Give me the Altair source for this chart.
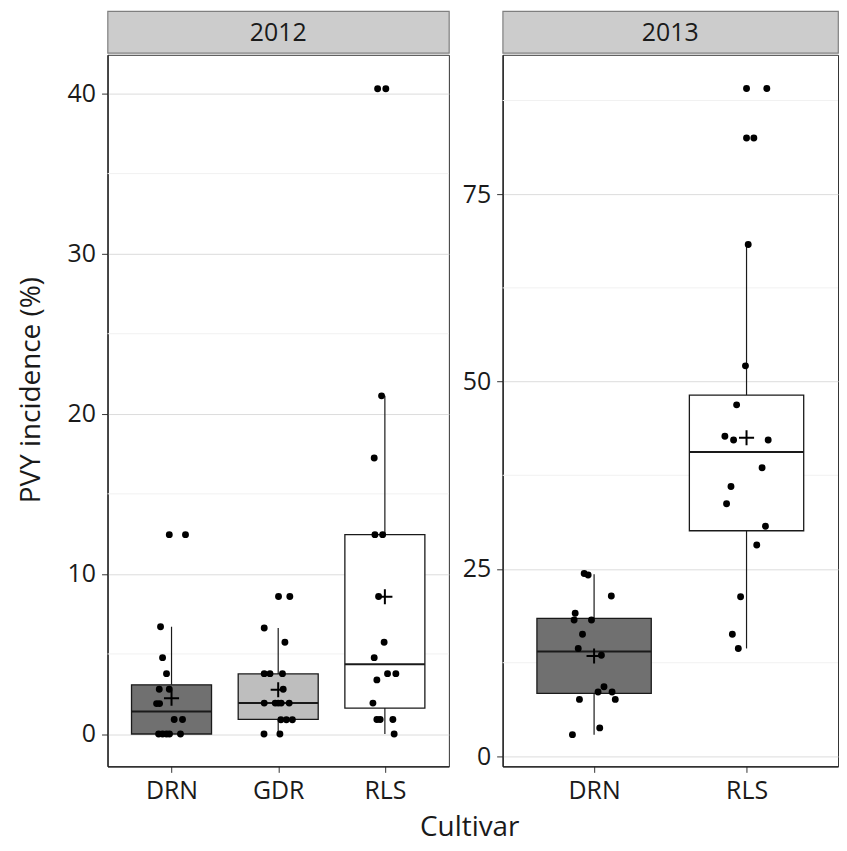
import altair as alt
import pandas as pd

FONT = "Open Sans"

# ---------------- data ----------------
years = ["2012", "2013"]
cats_2012 = ["DRN", "GDR", "RLS"]
cats_2013 = ["DRN", "RLS"]

# 2012 observations (PVY incidence %) and horizontal jitter (category units)
drn_2012 = [12.45, 12.45, 6.70, 4.77, 3.77, 2.80, 2.80, 1.90, 1.90, 0.91, 0.91, 0, 0, 0, 0, 0]
drn_2012_jit = [-0.021, 0.131, -0.103, -0.084, -0.047, -0.115, -0.021, -0.140, -0.112, 0.025, 0.103, -0.121, -0.084, -0.047, -0.019, 0.084]
gdr_2012 = [8.59, 8.59, 6.62, 5.73, 3.77, 3.77, 3.77, 2.80, 1.93, 1.93, 1.93, 1.93, 1.93, 0.89, 0.89, 0.89, 0, 0]
gdr_2012_jit = [0.003, 0.109, -0.131, 0.063, -0.131, -0.077, 0.040, 0.047, -0.131, -0.028, 0.0, 0.028, 0.103, 0.025, 0.077, 0.133, -0.133, 0.016]
rls_2012 = [40.3, 40.3, 21.12, 17.24, 12.45, 12.45, 8.59, 5.73, 4.77, 3.77, 3.77, 3.38, 1.93, 0.91, 0.91, 0.91, 0]
rls_2012_jit = [-0.068, 0.009, -0.031, -0.100, -0.093, -0.021, -0.059, -0.007, -0.100, 0.025, 0.103, -0.075, -0.112, -0.075, -0.044, 0.075, 0.087]

# 2013 observations
drn_2013 = [24.4, 24.2, 21.4, 19.1, 18.2, 18.2, 16.3, 14.4, 13.5, 9.3, 8.6, 8.6, 7.6, 7.6, 3.8, 2.9]
drn_2013_jit = [-0.065, -0.039, 0.113, -0.124, -0.131, -0.017, -0.076, -0.104, 0.048, 0.065, 0.026, 0.118, -0.096, 0.139, 0.037, -0.142]
rls_2013 = [89.1, 89.1, 82.5, 82.5, 68.3, 52.1, 46.9, 42.7, 42.2, 42.2, 38.5, 36.0, 33.7, 30.7, 28.2, 21.3, 16.3, 14.4]
rls_2013_jit = [0.0, 0.133, 0.0, 0.048, 0.011, -0.007, -0.065, -0.142, -0.085, 0.142, 0.102, -0.102, -0.131, 0.124, 0.067, -0.039, -0.093, -0.054]

# box summaries: lower whisker, Q1, median, Q3, upper whisker, mean
box_2012_lo = [0.0, 0.0, 0.0]
box_2012_q1 = [0.0, 0.91, 1.62]
box_2012_med = [1.41, 1.93, 4.36]
box_2012_q3 = [3.07, 3.75, 12.45]
box_2012_hi = [6.70, 6.62, 21.12]
box_2012_mean = [2.24, 2.76, 8.57]

box_2013_lo = [2.9, 14.4]
box_2013_q1 = [8.4, 30.1]
box_2013_med = [14.0, 40.6]
box_2013_q3 = [18.4, 48.2]
box_2013_hi = [24.3, 68.3]
box_2013_mean = [13.4, 42.5]

# axis ticks
ticks_2012 = [0, 10, 20, 30, 40]
minor_2012 = [5, 15, 25, 35]
ticks_2013 = [0, 25, 50, 75]
minor_2013 = [12.5, 37.5, 62.5, 87.5]

fill_cats = ["DRN", "GDR", "RLS"]
fill_cols = ["#707070", "#BEBEBE", "#FFFFFF"]

BOX_W = 0.75
PLUS = "M -1 0 L 1 0 M 0 -1 L 0 1"
STRIP_H = 42
W1, W2, H = 343, 337, 715


def points_frame(cats, values, jits):
    rows = []
    for i, c in enumerate(cats):
        for v, j in zip(values[i], jits[i]):
            rows.append({"cultivar": c, "pos": i + 1, "value": v, "jit": j})
    return pd.DataFrame(rows)


def box_frame(cats, lo, q1, med, q3, hi, mean):
    return pd.DataFrame({
        "cultivar": cats, "pos": list(range(1, len(cats) + 1)),
        "lo": lo, "q1": q1, "med": med, "q3": q3, "hi": hi, "mean": mean,
    })


def panel(cats, pts, box, ydom, major, minor, width, height, ytitle):
    xdom = [0.4, len(cats) + 0.6]
    xscale = alt.Scale(domain=xdom, nice=False, zero=False)
    yscale = alt.Scale(domain=ydom, nice=False, zero=False)
    label_expr = " : ".join(
        [f"datum.value == {i + 1} ? '{c}'" for i, c in enumerate(cats[:-1])] + [f"'{cats[-1]}'"]
    )
    xaxis = alt.Axis(values=list(range(1, len(cats) + 1)), labelExpr=label_expr,
                     title=None, grid=False)
    yaxis_kwargs = dict(values=major, grid=True, gridColor="#DCDCDC", gridWidth=1)
    if ytitle:
        # centre the title over strip + panel, as the facet title is
        yaxis = alt.Axis(title=ytitle, titlePadding=22, titleY=(height - STRIP_H) / 2,
                         **yaxis_kwargs)
    else:
        yaxis = alt.Axis(title=None, **yaxis_kwargs)

    minor_layer = alt.Chart(pd.DataFrame({"m": minor})).mark_rule(
        color="#F1F1F1", strokeWidth=1
    ).encode(y=alt.Y("m:Q", scale=yscale, axis=yaxis))

    bb = alt.Chart(box).transform_calculate(
        left=f"datum.pos - {BOX_W / 2}", right=f"datum.pos + {BOX_W / 2}"
    )
    whisk_lo = bb.mark_rule(color="#1a1a1a", strokeWidth=1.2).encode(
        x=alt.X("pos:Q", scale=xscale, axis=xaxis),
        y=alt.Y("lo:Q", scale=yscale, axis=yaxis), y2="q1:Q")
    whisk_hi = bb.mark_rule(color="#1a1a1a", strokeWidth=1.2).encode(
        x=alt.X("pos:Q", scale=xscale, axis=xaxis),
        y=alt.Y("q3:Q", scale=yscale, axis=yaxis), y2="hi:Q")
    boxes = bb.mark_rect(stroke="#1a1a1a", strokeWidth=1.3).encode(
        x=alt.X("left:Q", scale=xscale, axis=xaxis), x2="right:Q",
        y=alt.Y("q1:Q", scale=yscale, axis=yaxis), y2="q3:Q",
        fill=alt.Fill("cultivar:N", scale=alt.Scale(domain=fill_cats, range=fill_cols), legend=None))
    medians = bb.mark_rule(color="#1a1a1a", strokeWidth=2).encode(
        x=alt.X("left:Q", scale=xscale, axis=xaxis), x2="right:Q",
        y=alt.Y("med:Q", scale=yscale, axis=yaxis))
    dots = alt.Chart(pts).transform_calculate(xj="datum.pos + datum.jit").mark_circle(
        color="black", opacity=1, size=48
    ).encode(
        x=alt.X("xj:Q", scale=xscale, axis=xaxis),
        y=alt.Y("value:Q", scale=yscale, axis=yaxis))
    means = bb.mark_point(shape=PLUS, filled=False, stroke="black", strokeWidth=2, size=230, opacity=1).encode(
        x=alt.X("pos:Q", scale=xscale, axis=xaxis),
        y=alt.Y("mean:Q", scale=yscale, axis=yaxis))

    return alt.layer(minor_layer, whisk_lo, whisk_hi, boxes, medians, dots, means).properties(
        width=width, height=height,
        view=alt.ViewBackground(fill="white", stroke="#333333", strokeWidth=1))


def strip(year, width):
    return alt.Chart(pd.DataFrame({"year": [year]})).mark_text(
        fontSize=25, color="#1a1a1a", font=FONT
    ).encode(text="year:N", x=alt.value(width / 2), y=alt.value(STRIP_H / 2 + 1)).properties(
        width=width, height=STRIP_H,
        view=alt.ViewBackground(fill="#CCCCCC", stroke="#7F7F7F", strokeWidth=1.2))


pts12 = points_frame(cats_2012, [drn_2012, gdr_2012, rls_2012], [drn_2012_jit, gdr_2012_jit, rls_2012_jit])
box12 = box_frame(cats_2012, box_2012_lo, box_2012_q1, box_2012_med, box_2012_q3, box_2012_hi, box_2012_mean)
pts13 = points_frame(cats_2013, [drn_2013, rls_2013], [drn_2013_jit, rls_2013_jit])
box13 = box_frame(cats_2013, box_2013_lo, box_2013_q1, box_2013_med, box_2013_q3, box_2013_hi, box_2013_mean)

p12 = panel(cats_2012, pts12, box12, [-2.02, 42.42], ticks_2012, minor_2012, W1, H, "PVY incidence (%)")
p13 = panel(cats_2013, pts13, box13, [-1.33, 93.6], ticks_2013, minor_2013, W2, H, None)

col12 = alt.vconcat(strip(years[0], W1), p12, spacing=0)
col13 = alt.vconcat(strip(years[1], W2), p13, spacing=0)

chart = alt.hconcat(col12, col13, spacing=11).properties(
    padding={"left": 8, "top": 0, "right": 0, "bottom": 0},
    title=alt.TitleParams("Cultivar", orient="bottom", anchor="middle", fontSize=28,
                          fontWeight="normal", font=FONT, color="#1a1a1a", dx=42, offset=10),
).configure(font=FONT).configure_axis(
    labelFont=FONT, titleFont=FONT, labelFontSize=25, labelColor="#1a1a1a",
    titleFontSize=28, titleFontWeight="normal", titleColor="#1a1a1a",
    tickColor="#333333", tickSize=6, tickWidth=1, labelPadding=6,
    domainColor="#1a1a1a", domainWidth=1.3,
).configure_concat(spacing=0)

chart.save("out.html", embed_options={"renderer": "svg", "actions": False})
